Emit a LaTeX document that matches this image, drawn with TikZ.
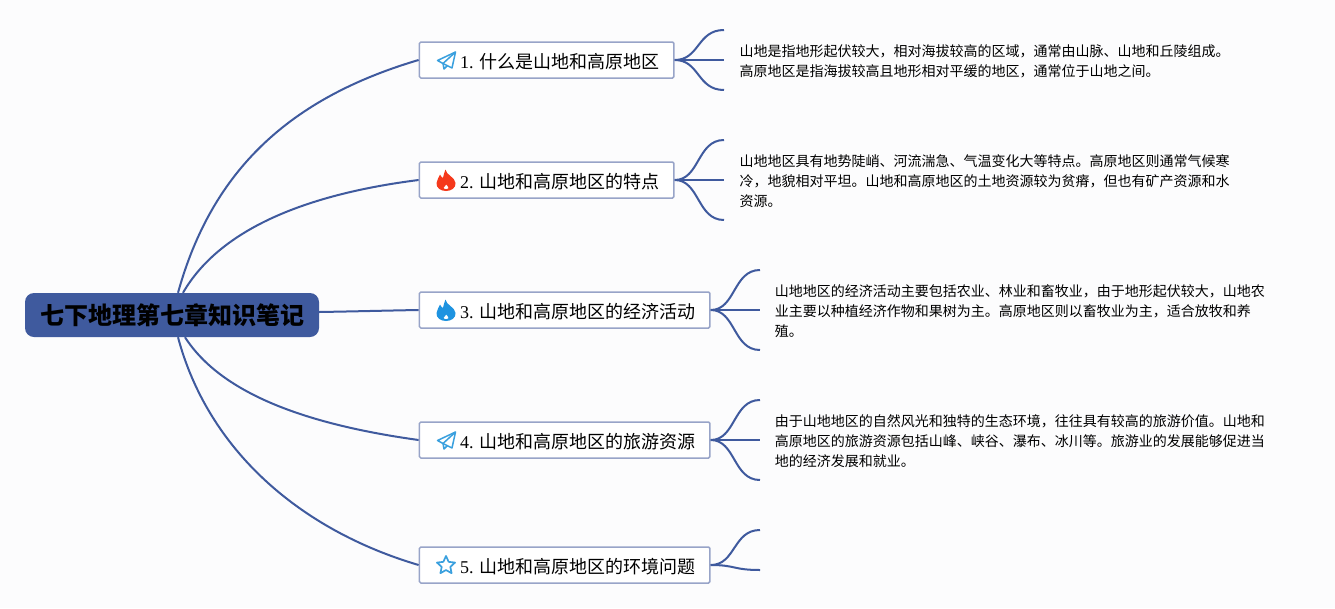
\documentclass[tikz,border=0pt]{standalone}
\usepackage{fontspec}
\setmainfont{Liberation Serif}
\newfontfamily\cjk{Noto Sans CJK SC}
\usetikzlibrary{shapes.geometric}
\definecolor{linkblue}{HTML}{3F5A9E}
\definecolor{edgeblue}{HTML}{98A4C8}
\definecolor{iconblue}{HTML}{3AA0DE}
\definecolor{flameblue}{HTML}{1E93E0}
\definecolor{flamered}{HTML}{F5391C}
\definecolor{paper}{HTML}{FCFCFD}
\tikzset{link/.style = {draw=linkblue, line width=2}}
\tikzset{topic/.style = {draw=edgeblue, fill=white, line width=1.5, rounded corners=1.5, minimum height=36, inner sep=0, anchor=west}}
\tikzset{topictext/.style = {font=\fontsize{18}{22}\selectfont, inner sep=0, anchor=west}}
\tikzset{note/.style = {font=\fontsize{14}{20}\selectfont\cjk, align=left, inner sep=0, anchor=north west}}
\tikzset{plane/.pic = {
    \draw [iconblue, line width=1.5, line join=round] (9.5,-8) -- (-8.5,0.5) -- (-3,3.5) -- (6,8) -- cycle;
    \draw [iconblue, line width=1.5, line join=round] (9.5,-8) -- (-3,3.5) -- (-2,9) -- (1.5,5.5);
}}
\tikzset{flame/.pic = {
    \fill [even odd rule] (-0.5,-10.5) .. controls (0,-5) and (9,-3) .. (9.5,3) .. controls (10,8) and (5,11) .. (0,11)
        .. controls (-5,11) and (-10,8) .. (-9.5,3) .. controls (-9.5,0) and (-7,-2) .. (-6,-5.5)
        .. controls (-5,-3.5) and (-4,-2.5) .. (-3,-2) .. controls (-2,-5) and (-2,-8) .. (-0.5,-10.5) -- cycle
        (0.3,4.5) .. controls (0.8,6) and (2.8,6.5) .. (2.5,8) .. controls (2.2,9.5) and (-2.2,9.5) .. (-2.5,8) .. controls (-2.5,6.8) and (-0.3,6) .. (0.3,4.5) -- cycle;
}}

\begin{document}
\begin{tikzpicture}[x=1pt,y=-1pt]
    \useasboundingbox [fill=paper] (0,0) rectangle (1335,608);
    % central topic
    \node (title) [fill=linkblue, rounded corners=9, minimum width=294, minimum height=44, inner sep=0, font=\fontsize{24}{28}\selectfont\cjk\bfseries] at (172,315) {七下地理第七章知识笔记};
    % five topics
    \node (box1) [topic, minimum width=254.6] at (418.6,60) {};
    \node (box2) [topic, minimum width=254.6] at (418.6,180) {};
    \node (box3) [topic, minimum width=290.6] at (418.6,310) {};
    \node (box4) [topic, minimum width=290.6] at (418.6,440) {};
    \node (box5) [topic, minimum width=290.6] at (418.6,565) {};
    \node (label1) [topictext] at (460,61.5) {1. {\cjk 什么是山地和高原地区}};
    \node (label2) [topictext] at (460,181.5) {2. {\cjk 山地和高原地区的特点}};
    \node (label3) [topictext] at (460,311.5) {3. {\cjk 山地和高原地区的经济活动}};
    \node (label4) [topictext] at (460,441.5) {4. {\cjk 山地和高原地区的旅游资源}};
    \node (label5) [topictext] at (460,566.5) {5. {\cjk 山地和高原地区的环境问题}};
    % icons
    \pic at (446,60) {plane};
    \pic [flamered] at (446,180) {flame};
    \pic [flameblue] at (446,310) {flame};
    \pic at (446,440) {plane};
    \node (star5) [star, star points=5, star point ratio=2.1, draw=iconblue, line width=1.7, line join=round, minimum size=19, inner sep=0] at (446,565.5) {};
    % from the title to the topics
    \draw [link] ([xshift=6]title.north) .. controls (212,170) and (290,98) .. (box1.west);
    \draw [link] ([xshift=11]title.north) .. controls (218,232) and (300,195) .. (box2.west);
    \draw [link] ([yshift=3]title.east) .. controls (350,311.5) and (390,310.5) .. (box3.west);
    \draw [link] ([xshift=13]title.south) .. controls (222,395) and (310,425) .. (box4.west);
    \draw [link] ([xshift=6]title.south) .. controls (208,450) and (300,530) .. (box5.west);
    % free ends of the branches
    \coordinate (end1a) at (724,30);
    \coordinate (end1b) at (724,60);
    \coordinate (end1c) at (724,90);
    \coordinate (end2a) at (724,140);
    \coordinate (end2b) at (724,180);
    \coordinate (end2c) at (724,220);
    \coordinate (end3a) at (760,270);
    \coordinate (end3b) at (760,310);
    \coordinate (end3c) at (760,350);
    \coordinate (end4a) at (760,400);
    \coordinate (end4b) at (760,440);
    \coordinate (end4c) at (760,480);
    \coordinate (end5a) at (760,530);
    \coordinate (end5b) at (760,570);
    \draw [link] (box1.east) .. controls +(25,0) and (697,30) .. (end1a);
    \draw [link] (box1.east) -- (end1b);
    \draw [link] (box1.east) .. controls +(25,0) and (697,90) .. (end1c);
    \draw [link] (box2.east) .. controls +(25,0) and (697,140) .. (end2a);
    \draw [link] (box2.east) -- (end2b);
    \draw [link] (box2.east) .. controls +(25,0) and (697,220) .. (end2c);
    \draw [link] (box3.east) .. controls +(25,0) and (733,270) .. (end3a);
    \draw [link] (box3.east) -- (end3b);
    \draw [link] (box3.east) .. controls +(25,0) and (733,350) .. (end3c);
    \draw [link] (box4.east) .. controls +(25,0) and (733,400) .. (end4a);
    \draw [link] (box4.east) -- (end4b);
    \draw [link] (box4.east) .. controls +(25,0) and (733,480) .. (end4c);
    \draw [link] (box5.east) .. controls +(25,0) and (733,530) .. (end5a);
    \draw [link] (box5.east) .. controls +(25,0) and (733,570) .. (end5b);
    % notes
    \node (note1) [note] at (739.3,44) {山地是指地形起伏较大，相对海拔较高的区域，通常由山脉、山地和丘陵组成。\\高原地区是指海拔较高且地形相对平缓的地区，通常位于山地之间。};
    \node (note2) [note] at (739.3,154) {山地地区具有地势陡峭、河流湍急、气温变化大等特点。高原地区则通常气候寒\\冷，地貌相对平坦。山地和高原地区的土地资源较为贫瘠，但也有矿产资源和水\\资源。};
    \node (note3) [note] at (774.6,284) {山地地区的经济活动主要包括农业、林业和畜牧业，由于地形起伏较大，山地农\\业主要以种植经济作物和果树为主。高原地区则以畜牧业为主，适合放牧和养\\殖。};
    \node (note4) [note] at (774.6,414) {由于山地地区的自然风光和独特的生态环境，往往具有较高的旅游价值。山地和\\高原地区的旅游资源包括山峰、峡谷、瀑布、冰川等。旅游业的发展能够促进当\\地的经济发展和就业。};
\end{tikzpicture}
\end{document}
